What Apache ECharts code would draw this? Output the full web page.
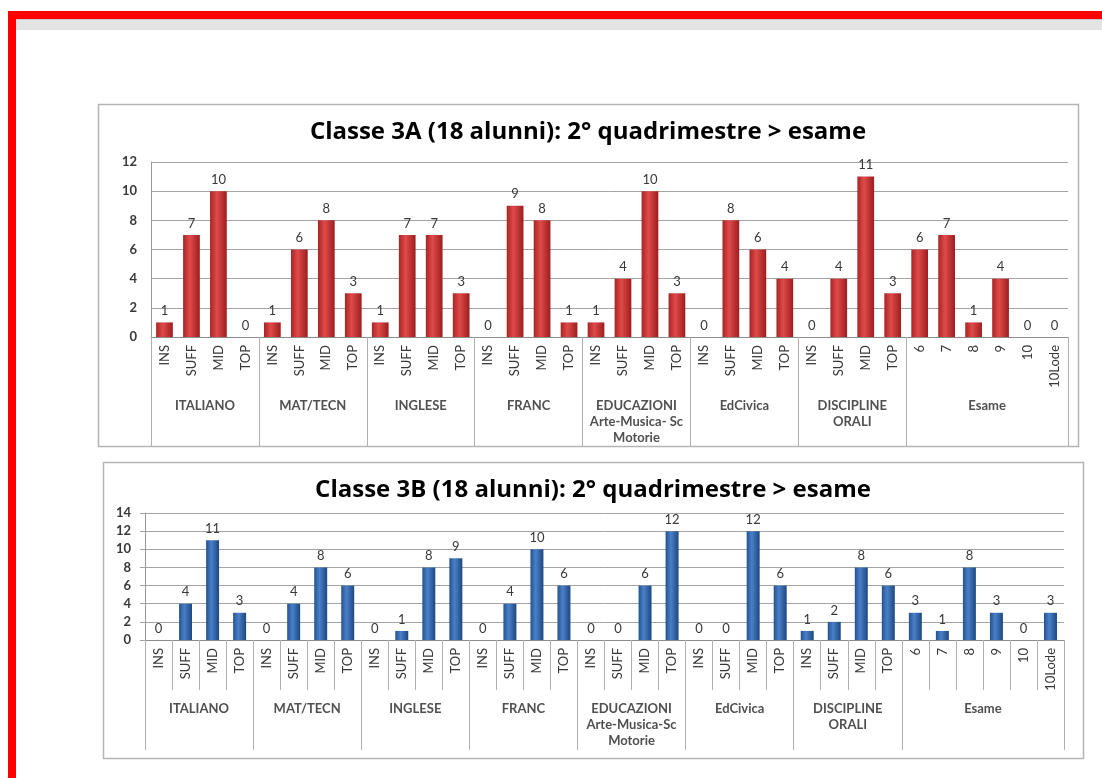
<!DOCTYPE html>
<html><head><meta charset="utf-8">
<script src="https://cdn.jsdelivr.net/npm/echarts@6/dist/echarts.min.js"></script>
<style>html,body{margin:0;padding:0;background:#fff}#c{width:1102px;height:778px}</style>
</head><body><div id="c"></div>
<script>
// ---- data ----
const subCats = ['INS','SUFF','MID','TOP'];
const esameCats = ['6','7','8','9','10','10Lode'];
const groups3A = ['ITALIANO','MAT/TECN','INGLESE','FRANC','EDUCAZIONI\nArte-Musica- Sc\nMotorie','EdCivica','DISCIPLINE\nORALI','Esame'];
const groups3B = ['ITALIANO','MAT/TECN','INGLESE','FRANC','EDUCAZIONI\nArte-Musica-Sc\nMotorie','EdCivica','DISCIPLINE\nORALI','Esame'];
const groupSizes = [4,4,4,4,4,4,4,6];
const values3A = [1,7,10,0, 1,6,8,3, 1,7,7,3, 0,9,8,1, 1,4,10,3, 0,8,6,4, 0,4,11,3, 6,7,1,4,0,0];
const values3B = [0,4,11,3, 0,4,8,6, 0,1,8,9, 0,4,10,6, 0,0,6,12, 0,0,12,6, 1,2,8,6, 3,1,8,3,0,3];
const title3A = 'Classe 3A (18 alunni): 2° quadrimestre > esame';
const title3B = 'Classe 3B (18 alunni): 2° quadrimestre > esame';

// ---- derived ----
const cats = [];
for (let g = 0; g < 7; g++) cats.push(...subCats);
cats.push(...esameCats);
const bounds = [0]; const centers = [];
groupSizes.forEach(s => { const b = bounds[bounds.length-1]; centers.push(b + s/2); bounds.push(b + s); });
const N = cats.length;

const FONT = 'Lato, "Liberation Sans", sans-serif';
const TFONT = '"Open Sans", Lato, sans-serif';
const txt = '#383838';
const gridCol = '#a4a4a4';

function grad(c0, c1, c2) {
  return new echarts.graphic.LinearGradient(0,0,1,0,[{offset:0,color:c0},{offset:0.4,color:c1},{offset:1,color:c2}]);
}

function axesFor(idx, groups, minorTicks, groupTickLen) {
  const x0 = {
    type:'category', gridIndex:idx, data:cats, position:'bottom',
    axisLine:{show:true,lineStyle:{color:'#8c8c8c'}},
    axisTick:{show:minorTicks,interval:0,length:50,lineStyle:{color:'#b0b0b0'}},
    axisLabel:{interval:0,rotate:90,margin:8,fontSize:13,color:txt,fontFamily:FONT}
  };
  const x1 = {
    type:'value', gridIndex:idx, min:0, max:N, position:'bottom',
    axisLine:{show:false}, splitLine:{show:false},
    axisTick:{show:true,customValues:bounds,length:groupTickLen,lineStyle:{color:'#b0b0b0'}},
    axisLabel:{show:true,customValues:centers,margin:61,fontSize:13,fontWeight:'bold',color:'#505050',lineHeight:16,fontFamily:FONT,
      formatter:v=>{const i=centers.indexOf(v);return i>=0?groups[i]:'';}}
  };
  return [x0,x1];
}

const chart = echarts.init(document.getElementById('c'), null, {renderer:'canvas'});
const xA = axesFor(0, groups3A, false, 109);
const xB = axesFor(1, groups3B, true, 110);

function series(idx, vals, color, bw) {
  return {
    type:'bar', xAxisIndex:idx*2, yAxisIndex:idx, data:vals, barWidth:bw,
    itemStyle:{color:color},
    label:{show:true,position:'top',distance:5,fontSize:13,color:txt,fontFamily:FONT}
  };
}

chart.setOption({
  animation:false,
  textStyle:{fontFamily:FONT},
  title:[
    {text:title3A,left:588,top:120,textAlign:'center',padding:0,textStyle:{fontSize:24,fontWeight:'bold',color:'#000',fontFamily:TFONT}},
    {text:title3B,left:593,top:478,textAlign:'center',padding:0,textStyle:{fontSize:24,fontWeight:'bold',color:'#000',fontFamily:TFONT}}
  ],
  graphic:[
    {type:'rect',shape:{x:8,y:11,width:1094,height:8},style:{fill:'#ff0000'},silent:true},
    {type:'rect',shape:{x:8,y:11,width:8,height:767},style:{fill:'#ff0000'},silent:true},
    {type:'rect',shape:{x:16,y:19,width:1086,height:11},style:{fill:'#e3e3e3'},silent:true},
    {type:'rect',shape:{x:16,y:19,width:1086,height:1},style:{fill:'#c8c8c8'},silent:true},
    {type:'rect',shape:{x:98.5,y:104.5,width:980,height:342},style:{fill:'none',stroke:'#b5b5b5',lineWidth:1.5},silent:true,z:-1},
    {type:'rect',shape:{x:103.5,y:462.5,width:980,height:296},style:{fill:'none',stroke:'#b5b5b5',lineWidth:1.5},silent:true,z:-1}
  ],
  grid:[
    {left:151,top:162,width:917,height:175},
    {left:145,top:513,width:919,height:127}
  ],
  xAxis:[xA[0],xA[1],xB[0],xB[1]],
  yAxis:[
    {type:'value',gridIndex:0,min:0,max:12,interval:2,
      axisLine:{show:true,lineStyle:{color:'#999'}},axisTick:{show:false},
      splitLine:{lineStyle:{color:gridCol}},
      axisLabel:{margin:14,fontSize:13,fontWeight:'bold',color:txt,fontFamily:FONT}},
    {type:'value',gridIndex:1,min:0,max:14,interval:2,
      axisLine:{show:true,lineStyle:{color:'#999'}},axisTick:{show:true,length:5,lineStyle:{color:gridCol}},
      splitLine:{lineStyle:{color:gridCol}},
      axisLabel:{margin:14,fontSize:13,fontWeight:'bold',color:txt,fontFamily:FONT}}
  ],
  series:[
    series(0, values3A, grad('#a82424','#e04a4a','#9c1e1e'), '62%'),
    series(1, values3B, grad('#24528f','#4a80c8','#1d477f'), '48%')
  ]
});
</script></body></html>
